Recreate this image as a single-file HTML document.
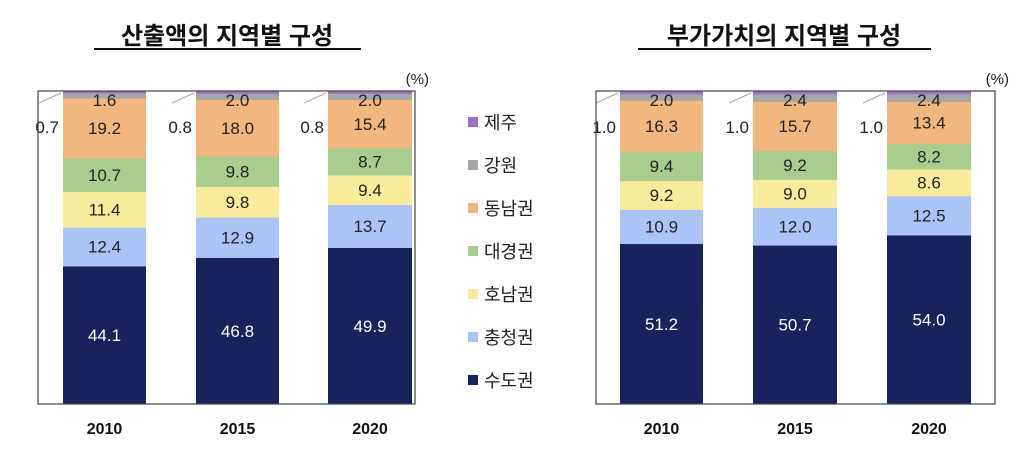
<!DOCTYPE html>
<html><head><meta charset="utf-8"><style>
body{margin:0;background:#fff;}
svg text{font-family:"Liberation Sans","Noto Sans CJK KR",sans-serif;}
</style></head><body>
<svg width="1024" height="449" xmlns="http://www.w3.org/2000/svg">
<rect width="1024" height="449" fill="#fff"/>
<text x="227" y="44" font-size="24" font-weight="bold" text-anchor="middle" fill="#111">산출액의 지역별 구성</text>
<line x1="94" y1="49" x2="361" y2="49" stroke="#111" stroke-width="2"/>
<text x="784" y="44" font-size="24" font-weight="bold" text-anchor="middle" fill="#111">부가가치의 지역별 구성</text>
<line x1="638" y1="49" x2="931" y2="49" stroke="#111" stroke-width="2"/>
<g id="charts"></g>
</svg>
<script>
const C=["#18225c","#a9c4f5","#f8eb9c","#a9cd8f","#f2b77e","#a6a6a6","#9e6fc9"];
const TC=["#fff","#222","#222","#222","#222","#222","#222"];
const g=document.getElementById('charts');
let s='';
function chart(bx0,bx1,bars,data,small){
 const top=91,bot=404,H=bot-top;
 bars.forEach((b,i)=>{
  const d=data[i];let tot=d.reduce((a,c)=>a+c,0);let y=bot;
  d.forEach((v,k)=>{const h=v/tot*H;y-=h;
   s+=`<rect x="${b[0]}" y="${y}" width="${b[1]-b[0]}" height="${h+0.3}" fill="${C[k]}"/>`;
   if(k<6){let ty=y+h/2+6; if(k==5) ty=106;
    s+=`<text x="${(b[0]+b[1])/2}" y="${ty}" font-size="17" text-anchor="middle" fill="${TC[k]}">${v.toFixed(1)}</text>`;}
  });
  s+=`<line x1="${b[0]-24}" y1="103" x2="${b[0]-2}" y2="93" stroke="#aaa" stroke-width="1.2"/>`;
  s+=`<text x="${b[0]-4}" y="133" font-size="17" text-anchor="end" fill="#222">${small[i]}</text>`;
  s+=`<text x="${(b[0]+b[1])/2}" y="434" font-size="16" font-weight="bold" text-anchor="middle" fill="#111">${[2010,2015,2020][i]}</text>`;
 });
 s+=`<rect x="${bx0}" y="${top}" width="${bx1-bx0}" height="${bot-top}" fill="none" stroke="#444" stroke-width="1.2"/>`;
 s+=`<text x="${bx1+14}" y="84" font-size="15" text-anchor="end" fill="#222">(%)</text>`;
}
chart(38,415,[[63,146],[196,279],[328,412]],
 [[44.1,12.4,11.4,10.7,19.2,1.6,0.7],[46.8,12.9,9.8,9.8,18.0,2.0,0.8],[49.9,13.7,9.4,8.7,15.4,2.0,0.8]],["0.7","0.8","0.8"]);
chart(596,995,[[620,703],[753,837],[887,971]],
 [[51.2,10.9,9.2,9.4,16.3,2.0,1.0],[50.7,12.0,9.0,9.2,15.7,2.4,1.0],[54.0,12.5,8.6,8.2,13.4,2.4,1.0]],["1.0","1.0","1.0"]);
const L=["제주","강원","동남권","대경권","호남권","충청권","수도권"];
L.forEach((t,i)=>{const y=122+i*43;const col=C[6-i];
 s+=`<rect x="468" y="${y-5}" width="10" height="10" fill="${col}"/>`;
 s+=`<text x="484" y="${y+7}" font-size="18" fill="#222">${t}</text>`;});
g.innerHTML=s;
</script>
</body></html>
